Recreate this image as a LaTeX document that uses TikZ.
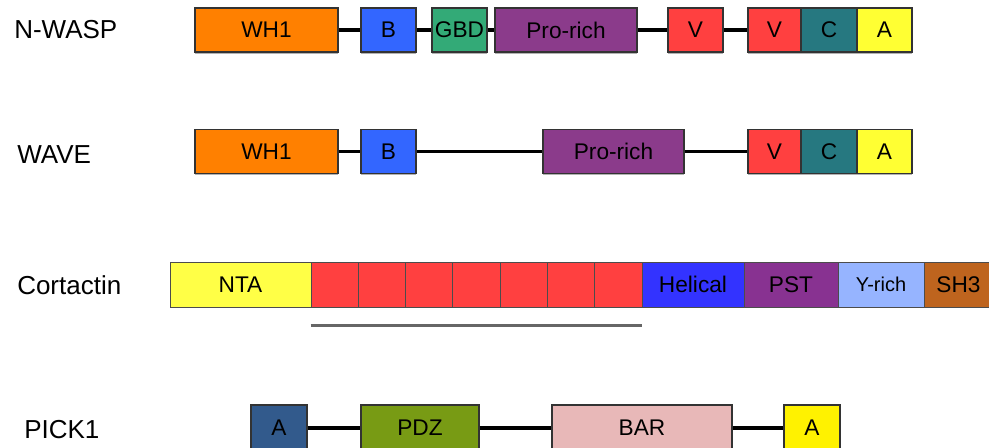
\documentclass[tikz,border=0pt]{standalone}
\usepackage{fontspec}
\setmainfont{Liberation Sans}
\usetikzlibrary{positioning,shapes,shadows}

\definecolor{whorange}{RGB}{255,128,0}
\definecolor{bblue}{RGB}{51,102,255}
\definecolor{gbdgreen}{RGB}{51,170,119}
\definecolor{propurple}{RGB}{139,59,139}
\definecolor{vred}{RGB}{255,64,64}
\definecolor{cteal}{RGB}{38,120,128}
\definecolor{ayellow}{RGB}{255,255,51}
\definecolor{ntayellow}{RGB}{255,255,70}
\definecolor{helblue}{RGB}{51,51,255}
\definecolor{pstpurple}{RGB}{136,50,145}
\definecolor{yrichblue}{RGB}{150,180,255}
\definecolor{shbrown}{RGB}{190,100,30}
\definecolor{asteel}{RGB}{50,90,140}
\definecolor{pdzgreen}{RGB}{120,155,20}
\definecolor{barpink}{RGB}{232,184,184}

\tikzstyle{dombox} = [rectangle, minimum height=33pt, inner sep=0pt, text centered, draw=black!80, line width=0.8pt, font=\fontsize{17}{20}\selectfont, drop shadow={shadow xshift=0.3pt, shadow yshift=-1.3pt, fill=black!60}]
\tikzstyle{wh1} = [dombox, fill=whorange, minimum width=107.25pt]
\tikzstyle{bdom} = [dombox, fill=bblue, minimum width=41.25pt]
\tikzstyle{gbd} = [dombox, fill=gbdgreen, minimum width=41.25pt]
\tikzstyle{prorich} = [dombox, fill=propurple, minimum width=106.5pt]
\tikzstyle{vdom} = [dombox, fill=vred, minimum width=41.25pt]
\tikzstyle{cdom} = [dombox, fill=cteal, minimum width=42pt]
\tikzstyle{adom} = [dombox, fill=ayellow, minimum width=41.25pt]
\tikzstyle{cort} = [rectangle, minimum height=33.75pt, inner sep=0pt, text centered, draw=black!70, line width=0.6pt, font=\fontsize{17}{20}\selectfont]
\tikzstyle{rpt} = [cort, fill=vred, minimum width=35.47pt]
\tikzstyle{pickbox} = [dombox, minimum height=34.5pt]
\tikzstyle{link} = [line width=2.4pt, black]
\tikzstyle{underbar} = [line width=2.2pt, black!60]
\tikzstyle{protein} = [anchor=west, inner sep=0pt, font=\fontsize{19.5}{22}\selectfont]

\begin{document}
\begin{tikzpicture}[x=0.75pt, y=-0.75pt]
\clip (0,0) rectangle (989,448);

% N-WASP
\node (nwasp) [protein] at (14,30) {N-WASP};
\node (nwh1) [wh1] at (266.5,30) {WH1};
\node (nb) [bdom] at (388.5,30) {B};
\node (ngbd) [gbd] at (459.5,30) {GBD};
\node (npro) [prorich] at (566,30) {Pro-rich};
\node (nv1) [vdom] at (695.5,30) {V};
\node (nv2) [vdom, minimum width=39.75pt] at (774.5,30) {V};
\node (nc) [cdom] at (829,30) {C};
\node (na) [adom] at (884.5,30) {A};
\draw [link] (nwh1) -- (nb);
\draw [link] (nb) -- (ngbd);
\draw [link] (ngbd) -- (npro);
\draw [link] (npro) -- (nv1);
\draw [link] (nv1) -- (nv2);

% WAVE
\node (wave) [protein] at (17,155) {WAVE};
\node (wwh1) [wh1] at (266.5,151.5) {WH1};
\node (wb) [bdom] at (388.5,151.5) {B};
\node (wpro) [prorich, minimum width=105.75pt] at (613.5,151.5) {Pro-rich};
\node (wv) [vdom, minimum width=39.75pt] at (774.5,151.5) {V};
\node (wc) [cdom] at (829,151.5) {C};
\node (wa) [adom] at (884.5,151.5) {A};
\draw [link] (wwh1) -- (wb);
\draw [link] (wb) -- (wpro);
\draw [link] (wpro) -- (wv);

% Cortactin
\node (cortactin) [protein] at (17,285) {Cortactin};
\node (nta) [cort, fill=ntayellow, minimum width=105.75pt] at (240.5,284.5) {NTA};
\foreach \i in {1,...,7}
  \node (rep\i) [rpt] at ({311+47.29*(\i-0.5)},284.5) {};
\node (helical) [cort, fill=helblue, minimum width=76.5pt] at (693,284.5) {Helical};
\node (pst) [cort, fill=pstpurple, minimum width=70.5pt] at (791,284.5) {\raisebox{-3pt}{PST}};
\node (yrich) [cort, fill=yrichblue, minimum width=64.5pt, font=\fontsize{15}{18}\selectfont] at (881,284.5) {Y-rich};
\node (sh3) [cort, fill=shbrown, minimum width=51.75pt] at (958.5,284.5) {\raisebox{-3pt}{SH3}};
\draw [underbar] ([yshift=-13.5pt]rep1.south west) -- ([yshift=-13.5pt]rep7.south east);

% PICK1
\node (pick1) [protein] at (24,430) {PICK1};
\node (pa1) [pickbox, fill=asteel, minimum width=42pt] at (279,428) {A};
\node (ppdz) [pickbox, fill=pdzgreen, minimum width=88.5pt] at (420,428) {PDZ};
\node (pbar) [pickbox, fill=barpink, minimum width=135pt] at (642,428) {BAR};
\node (pa2) [pickbox, fill=yellow, minimum width=42pt] at (812,428) {A};
\draw [link] (pa1) -- (ppdz);
\draw [link] (ppdz) -- (pbar);
\draw [link] (pbar) -- (pa2);
\end{tikzpicture}
\end{document}
